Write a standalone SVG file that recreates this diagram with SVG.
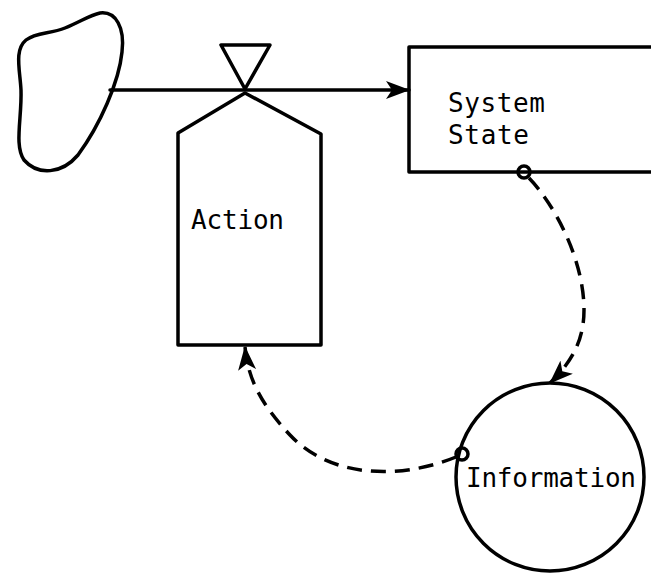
<svg xmlns="http://www.w3.org/2000/svg" width="651" height="573" viewBox="0 0 651 573">
<defs>
<style>
.ln{fill:none;stroke:#000;stroke-width:3.5;stroke-linejoin:round;stroke-linecap:round}
.dash{fill:none;stroke:#000;stroke-width:3.5;stroke-dasharray:15 9}
.tx{font-family:"DejaVu Sans Mono","Liberation Mono",monospace;font-size:26px;fill:#000}
</style>
<marker id="ah" viewBox="0 0 24 18" refX="23" refY="9" markerWidth="24" markerHeight="18" markerUnits="userSpaceOnUse" orient="auto">
<path d="M0,0 L24,9 L0,18 L6,9 Z" fill="#000"/>
</marker>
</defs>
<rect width="651" height="573" fill="#fff"/>
<g id="source">
<path class="ln" d="M100,13 C116,11 125,28 122,52 C119,82 100,125 78,155 C62,174 38,176 24,160 C14,145 22,118 21,90 C20,70 14,50 26,40 C36,32 50,34 65,28 C80,22 90,15 100,13 Z"/>
</g>
<g id="action">
<path class="ln" d="M221,45 L270,45 L245,89 Z"/>
<path class="ln" d="M245,93 L178,133 L178,345 L321,345 L321,134 Z"/>
<text class="tx" x="191" y="229" textLength="93">Action</text>
</g>
<g id="state">
<path class="ln" d="M651,47 L409,47 L409,172 L651,172"/>
<text class="tx" x="448" y="112" textLength="97">System</text>
<text class="tx" x="448" y="144" textLength="81">State</text>
</g>
<g id="information">
<circle class="ln" cx="550" cy="477" r="94"/>
<text class="tx" x="466" y="487" textLength="170">Information</text>
</g>
<g id="connectors">
<path class="ln" d="M110,90 L409,90" marker-end="url(#ah)"/>
<circle class="ln" cx="524" cy="172" r="6" fill="#fff"/>
<path class="dash" d="M529,178 C555,205 584,260 584,310 C584,340 572,362 550,383" marker-end="url(#ah)"/>
<circle class="ln" cx="462" cy="454" r="6" fill="#fff"/>
<path class="dash" d="M456,457 C400,480 330,478 290,435 C262,405 248,380 245,347" marker-end="url(#ah)"/>
</g>
</svg>
